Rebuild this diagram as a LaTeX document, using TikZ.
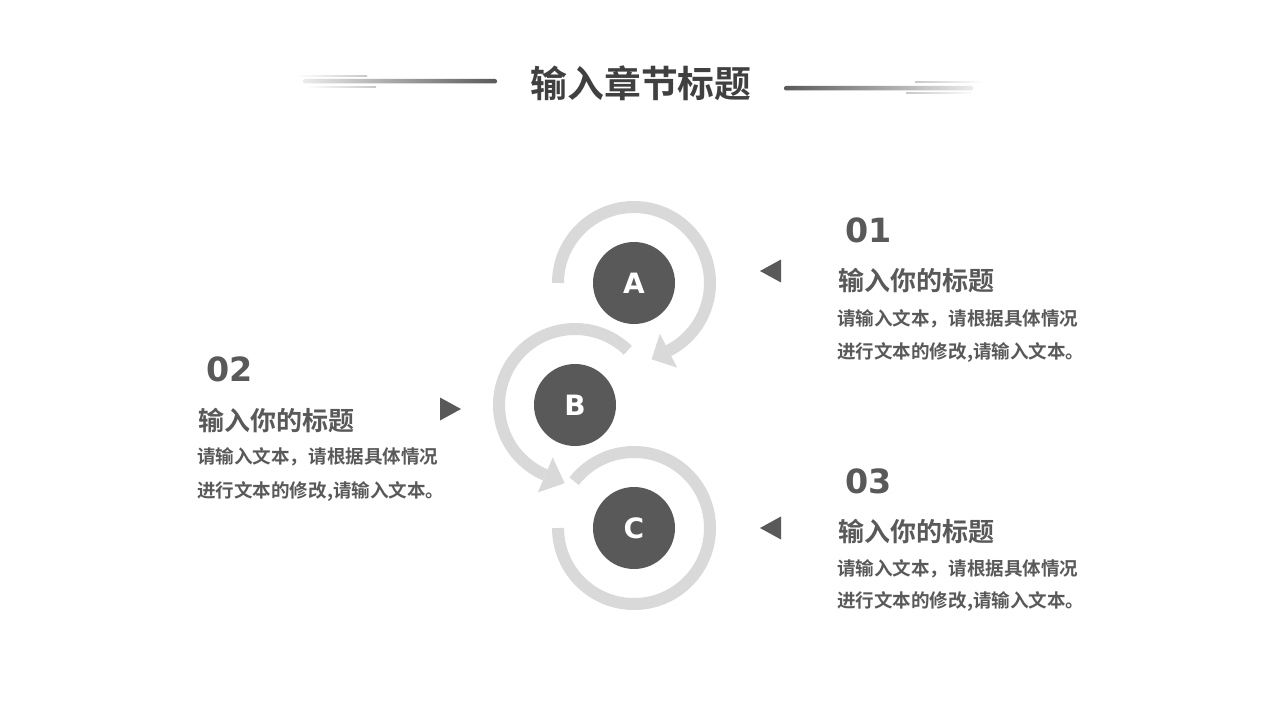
\documentclass[tikz,border=0pt]{standalone}
\usepackage{fontspec}
\usetikzlibrary{calc}
\newfontfamily\cjkb{Noto Sans CJK SC Bold}
\newfontfamily\numf{DejaVu Sans Bold}
\definecolor{darkg}{HTML}{595959}
\definecolor{titleg}{HTML}{404040}
\definecolor{ringg}{HTML}{D9D9D9}
\definecolor{thing}{HTML}{C8C8C8}
\tikzset{
  ring/.style={draw=ringg, line width=9pt},
  headtri/.style={fill=ringg, draw=none},
  circ/.style={circle, fill=darkg, minimum size=61.5pt, inner sep=0pt, text=white, font=\numf\fontsize{21pt}{21pt}\selectfont},
  pointer/.style={fill=darkg, draw=none},
  numtxt/.style={anchor=base west, inner sep=0pt, text=darkg, font=\numf\fontsize{25pt}{25pt}\selectfont},
  headtxt/.style={anchor=base west, inner sep=0pt, text=darkg, font=\cjkb\fontsize{19.5pt}{19.5pt}\selectfont},
  bodytxt/.style={anchor=base west, inner sep=0pt, text=darkg, font=\cjkb\fontsize{13.9pt}{13.9pt}\selectfont},
}
\begin{document}
\begin{tikzpicture}[x=0.75pt, y=0.75pt]
\useasboundingbox (0,0) rectangle (1280,-720);
\fill[white] (0,0) rectangle (1280,-720);

% title
\node[anchor=base, inner sep=0pt, text=titleg, font=\cjkb\fontsize{27.6pt}{27.6pt}\selectfont] (title) at (641,-98) {输入章节标题};
% decorative lines left
\shade[left color=white!88!darkg, right color=darkg, rounded corners=1.5pt] (303,-79) rectangle (497,-83.5);
\shade[left color=white, right color=thing] (297,-75.5) rectangle (367,-77);
\shade[left color=white, right color=thing] (306,-86.5) rectangle (376,-88);
% decorative lines right
\shade[left color=darkg, right color=white!88!darkg, rounded corners=1.5pt] (784,-86) rectangle (973,-90.5);
\shade[left color=thing, right color=white] (915,-81.5) rectangle (983,-83);
\shade[left color=thing, right color=white] (906,-92.5) rectangle (976,-94);

% circles
\coordinate (cA) at (634,-283);
\coordinate (cB) at (575,-405);
\coordinate (cC) at (634,-528);

% ring A
\draw[ring] ($(cA)+(180:76)$) arc[start angle=180, end angle=-63, radius=76];
\fill[headtri] ($(cA)+(-63:57)$) -- ($(cA)+(-63:95)$) -- ($(cA)+(-63:76)+(-153:19)$) -- cycle;
% ring B
\draw[ring] ($(cB)+(46:76)$) arc[start angle=46, end angle=247, radius=76];
\fill[headtri] ($(cB)+(247:57)$) -- ($(cB)+(247:95)$) -- ($(cB)+(247:76)+(337:21)$) -- cycle;
% ring C
\draw[ring] ($(cC)+(142:76)$) arc[start angle=142, end angle=-180, radius=76];

\node[circ] (A) at (cA) {A};
\node[circ] (B) at (cB) {B};
\node[circ] (C) at (cC) {C};

% pointers
\fill[pointer] (760,-271) -- (781,-259.5) -- (781,-282.5) -- cycle;
\fill[pointer] (461,-409) -- (440,-397.5) -- (440,-420.5) -- cycle;
\fill[pointer] (760,-528) -- (781,-516.5) -- (781,-539.5) -- cycle;

% block 01
\node[numtxt] (n1) at (845,-243) {01};
\node[headtxt] (h1) at (838,-290) {输入你的标题};
\node[bodytxt] (b1a) at (837,-325) {请输入文本，请根据具体情况};
\node[bodytxt] (b1b) at (837,-358) {进行文本的修改,请输入文本。};

% block 02
\node[numtxt] (n2) at (206,-381) {02};
\node[headtxt] (h2) at (198,-430) {输入你的标题};
\node[bodytxt] (b2a) at (197,-463) {请输入文本，请根据具体情况};
\node[bodytxt] (b2b) at (197,-497) {进行文本的修改,请输入文本。};

% block 03
\node[numtxt] (n3) at (845,-493) {03};
\node[headtxt] (h3) at (838,-541) {输入你的标题};
\node[bodytxt] (b3a) at (837,-575) {请输入文本，请根据具体情况};
\node[bodytxt] (b3b) at (837,-607) {进行文本的修改,请输入文本。};
\end{tikzpicture}
\end{document}
